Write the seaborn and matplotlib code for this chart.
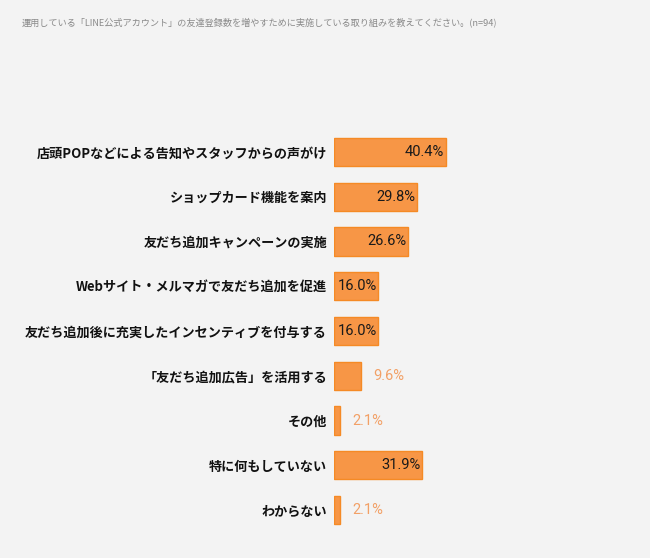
import matplotlib
matplotlib.use("Agg")
import matplotlib.pyplot as plt
import seaborn as sns
import pandas as pd

categories = [
    "店頭POPなどによる告知やスタッフからの声がけ",
    "ショップカード機能を案内",
    "友だち追加キャンペーンの実施",
    "Webサイト・メルマガで友だち追加を促進",
    "友だち追加後に充実したインセンティブを付与する",
    "「友だち追加広告」を活用する",
    "その他",
    "特に何もしていない",
    "わからない",
]
values = [40.4, 29.8, 26.6, 16.0, 16.0, 9.6, 2.1, 31.9, 2.1]
title = "運用している「LINE公式アカウント」の友達登録数を増やすために実施している取り組みを教えてください。(n=94)"

sns.set_theme(style="white")
plt.rcParams['font.family'] = ['Noto Sans CJK JP', 'DejaVu Sans']

bg = "#f3f3f3"
fig = plt.figure(figsize=(6.5, 5.58), dpi=100, facecolor=bg)
ax = fig.add_axes([334/650, 1 - 532.4/558, 277/650, 402.8/558])
ax.set_facecolor(bg)

df = pd.DataFrame({"cat": categories, "val": values})
sns.barplot(data=df, x="val", y="cat", orient="h", color="#f79646",
            width=0.63, edgecolor="#f58a25", linewidth=1.0, saturation=1, ax=ax)

ax.set_xlim(0, 100)
ax.set_ylim(len(categories) - 0.5, -0.5)
ax.set_xlabel("")
ax.set_ylabel("")
ax.set_xticks([])
for s in ax.spines.values():
    s.set_visible(False)
ax.tick_params(axis="y", length=0, pad=5)
for lbl in ax.get_yticklabels():
    lbl.set_fontweight("bold")
    lbl.set_fontsize(9.45)
    lbl.set_color("#111111")

for i, v in enumerate(values):
    txt = f"{v:.1f}%"
    if v >= 15:
        ax.text(v - 0.6, i, txt, ha="right", va="center", fontsize=10.5,
                color="#1a1a1a", family=["Roboto", "DejaVu Sans"])
    else:
        ax.text(v + 4.5, i, txt, ha="left", va="center", fontsize=10.5,
                color="#f2a066", family=["Roboto", "DejaVu Sans"])

fig.text(22/650, 1 - 22/558, title, ha="left", va="center", fontsize=6.6,
         color="#8a8a8a")

fig.savefig("out.png", dpi=100, facecolor=bg)
